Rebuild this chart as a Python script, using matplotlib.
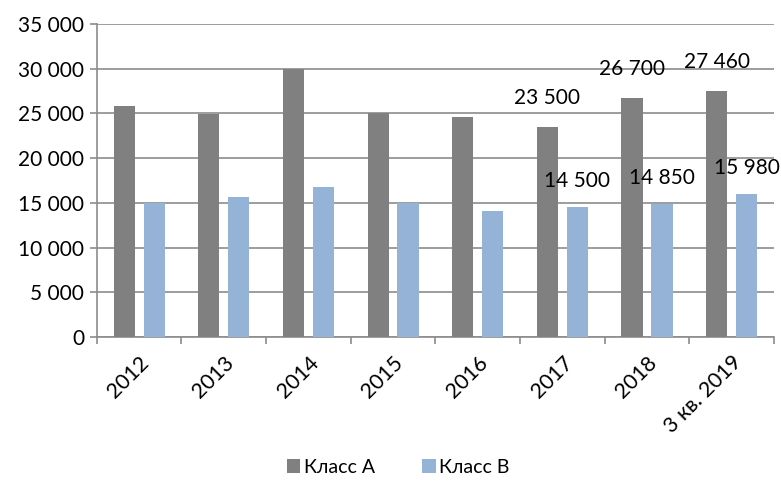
import numpy as np
import matplotlib.pyplot as plt
from matplotlib.ticker import FuncFormatter, FixedLocator

plt.rcParams['font.family'] = ['Lato', 'DejaVu Sans']

years = ['2012', '2013', '2014', '2015', '2016', '2017', '2018', '3 кв. 2019']
class_a = [25800, 24900, 30000, 25000, 24600, 23500, 26700, 27460]
class_b = [15000, 15650, 16770, 15000, 14100, 14500, 14850, 15980]
labelled = [5, 6, 7]  # categories with data labels

fs = 15

fig = plt.figure(figsize=(7.81, 4.82), dpi=100)
ax = fig.add_axes([0.124, 0.301, 0.867, 0.649])

x = np.arange(len(years))
w = 0.25
off = 0.177
ax.bar(x - off, class_a, w, color='#808080', label='Класс А', zorder=3)
ax.bar(x + off, class_b, w, color='#95B3D7', label='Класс В', zorder=3)

def fmt(v, pos=None):
    return f'{int(v):,}'.replace(',', ' ')

for i in labelled:
    ax.annotate(fmt(class_a[i]), (x[i] - off, class_a[i]), xytext=(0, 21),
                textcoords='offset points', ha='center', va='center', fontsize=fs)
    ax.annotate(fmt(class_b[i]), (x[i] + off, class_b[i]), xytext=(0, 19),
                textcoords='offset points', ha='center', va='center', fontsize=fs)

ax.set_xlim(-0.5, len(years) - 0.5)
ax.set_ylim(0, 35000)
ax.set_yticks(np.arange(0, 35001, 5000))
ax.yaxis.set_major_formatter(FuncFormatter(fmt))
ax.grid(axis='y', color='#8c8c8c', linewidth=1.2, zorder=0)

ax.set_xticks(x)
ax.set_xticklabels(years, rotation=45, ha='right', rotation_mode='anchor')
ax.xaxis.set_minor_locator(FixedLocator(np.arange(-0.5, len(years), 1)))
ax.tick_params(axis='x', which='major', length=0, pad=11, labelsize=15.5)
ax.tick_params(axis='x', which='minor', length=5, color='#8c8c8c', width=1.2)
ax.tick_params(axis='y', length=5, color='#8c8c8c', width=1.2, labelsize=fs, pad=4)

for s in ['top', 'right']:
    ax.spines[s].set_visible(False)
for s in ['left', 'bottom']:
    ax.spines[s].set_color('#8c8c8c')
    ax.spines[s].set_linewidth(1.2)

fig.legend(loc='center', bbox_to_anchor=(0.510, 0.031), ncol=2, frameon=False,
           fontsize=14, handlelength=0.7, handleheight=0.7, handletextpad=0.2,
           columnspacing=2.4)

fig.savefig('out.png', dpi=100)
